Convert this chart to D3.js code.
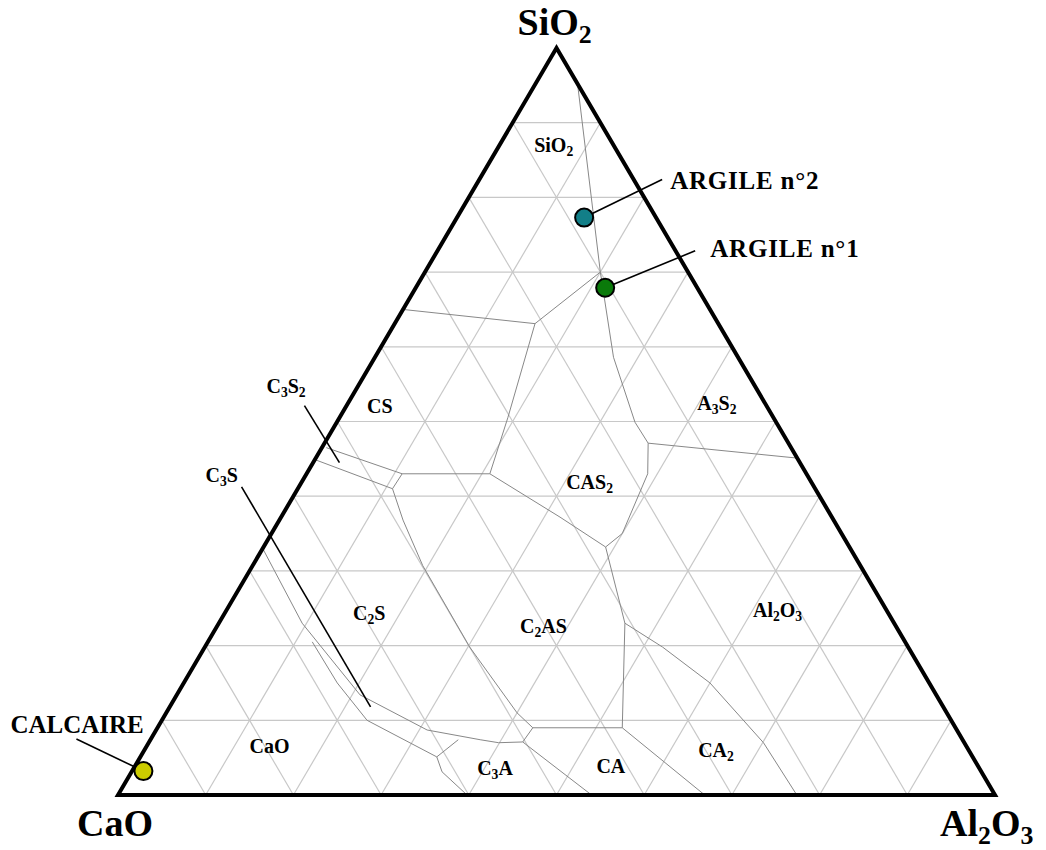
<!DOCTYPE html>
<html>
<head>
<meta charset="utf-8">
<script src="https://cdn.jsdelivr.net/npm/d3@7"></script>
<style>
body { margin: 0; background: #fff; }
text { font-family: "Liberation Serif", "Times New Roman", serif; font-weight: bold; fill: #000; }
</style>
</head>
<body>
<script>
// all compositions in % : [SiO2, Al2O3], CaO is the rest
var vertexNames = ["SiO_2", "CaO", "Al_2O_3"];
var vertexComp  = [[100, 0], [0, 0], [0, 100]];
var gridSteps   = d3.range(10, 100, 10);

// phase boundaries
var boundaries = [
    [[95.2, 4.8], [70.0, 20.0], [58.6, 27.2], [49.9, 34.0], [47.1, 36.9], [43.0, 38.9],
     [35.0, 40.0], [33.2, 39.0], [23.0, 46.3], [9.0, 53.0]],
    [[70.0, 20.0], [63.1, 16.0], [65.0, 0]],
    [[63.1, 16.0], [50.5, 19.2], [43.0, 20.9], [43.0, 10.9]],
    [[43.0, 10.9], [46.5, 0.5]],
    [[44.9, 0], [41.0, 10.8], [43.0, 10.9]],
    [[41.0, 10.8], [36.8, 14.1], [30.7, 19.4], [19.8, 30.2], [11.0, 40.0], [9.0, 42.8]],
    [[43.0, 20.9], [37.2, 31.8], [33.2, 39.0]],
    [[47.1, 36.9], [45.1, 54.9]],
    [[9.0, 42.8], [9.0, 53.0]],
    [[9.0, 53.0], [0, 66.9]],
    [[23.0, 46.3], [19.8, 52.2], [15.0, 60.0], [7.0, 70.1], [0, 77.4]],
    [[9.0, 42.8], [7.1, 42.6], [0, 54.0]],
    [[33.0, 0], [23.0, 9.5], [13.4, 20.9], [8.7, 30.9], [7.4, 37.6], [7.0, 39.9], [7.1, 42.6]],
    [[20.5, 11.9], [15.0, 17.5], [10.0, 23.4], [5.1, 33.8], [3.1, 35.4], [0, 39.8]],
    [[5.1, 33.8], [7.4, 35.1]]
];

// phase field labels (left end of the baseline)
var phaseNames = ["SiO_2", "CS", "A_3S_2", "CAS_2", "C_2S", "C_2AS", "Al_2O_3", "CaO", "C_3A", "CA", "CA_2"];
var phaseSiO2  = [86.1, 51.2, 51.5, 41.0, 23.4, 21.7, 23.8, 5.6, 2.7, 2.9, 5.1];
var phaseAl2O3 = [4.4, 2.8, 40.3, 30.6, 15.1, 35.0, 60.5, 12.2, 39.6, 53.1, 63.6];

// narrow fields labelled from outside with a pointer
var pointerNames  = ["C_3S_2", "C_3S"];
var pointerTarget = [[44.5, 3.0], [11.8, 22.9]];

// raw materials
var samples      = ["ARGILE n°2", "ARGILE n°1", "CALCAIRE"];
var sampleComp   = [[77.3, 14.5], [67.9, 21.6], [3.2, 1.3]];
var sampleColors = ["#127f88", "#0a7a0a", "#cccc00"];

var width = 1046, height = 850;

// layout offsets in px
var vertexOffset  = [[-39, -13], [-41, 41], [-55, 41]];
var pointerLabel  = [[-73, -70], [-165, -225]];
var pointerTail   = [[-35, -57], [-129, -220]];
var sampleLeader  = [[78, -38], [90, -37], [-67, -32]];
var sampleLabel   = [[86, -29], [105, -31], [-133, -38]];

const svg = d3.select("body")
    .append("svg")
    .attr("width", width)
    .attr("height", height);

// ternary projection: horizontal position runs with Al2O3 + SiO2/2, vertical with SiO2
var xScale = d3.scaleLinear().domain([0, 100]).range([118, 995]);
var yScale = d3.scaleLinear().domain([0, 100]).range([795, 48]);

function px(d) { return xScale(d[1] + d[0] / 2); }
function py(d) { return yScale(d[0]); }

var line = d3.line().x(px).y(py);

function addText(g, str, x, y, size, spacing) {
    var t = g.append("text").attr("x", x).attr("y", y).style("font-size", size + "px");
    if (spacing) t.style("letter-spacing", spacing + "px");
    var shift = 0;
    str.split(/(_\d)/).forEach(p => {
        if (!p) return;
        var sub = p[0] === "_";
        var target = sub ? size * 0.2 : 0;
        t.append("tspan")
            .attr("dy", target - shift)
            .style("font-size", (sub ? size * 0.68 : size) + "px")
            .text(sub ? p.slice(1) : p);
        shift = target;
    });
    return t;
}

// grid
var gridLines = [];
gridSteps.forEach(k => {
    gridLines.push([[k, 0], [k, 100 - k]]);
    gridLines.push([[0, k], [100 - k, k]]);
    gridLines.push([[0, 100 - k], [100 - k, 0]]);
});

svg.append("g")
    .selectAll("path")
    .data(gridLines)
    .join("path")
    .attr("d", line)
    .style("fill", "none")
    .style("stroke", "#c8c8c8")
    .style("stroke-width", 1.2);

// boundaries
svg.append("g")
    .selectAll("path")
    .data(boundaries)
    .join("path")
    .attr("d", line)
    .style("fill", "none")
    .style("stroke", "#888")
    .style("stroke-width", 1);

// frame
svg.append("path")
    .attr("d", line(vertexComp) + "Z")
    .style("fill", "none")
    .style("stroke", "#000")
    .style("stroke-width", 4)
    .style("stroke-linejoin", "miter");

// pointers
var labels = svg.append("g");
pointerNames.forEach((n, i) => {
    var x = px(pointerTarget[i]), y = py(pointerTarget[i]);
    svg.append("line")
        .attr("x1", x + pointerTail[i][0]).attr("y1", y + pointerTail[i][1])
        .attr("x2", x).attr("y2", y)
        .style("stroke", "#000")
        .style("stroke-width", 1.6);
    addText(labels, n, x + pointerLabel[i][0], y + pointerLabel[i][1], 20);
});

phaseNames.forEach((n, i) => {
    var d = [phaseSiO2[i], phaseAl2O3[i]];
    addText(labels, n, px(d), py(d), 20);
});

vertexNames.forEach((n, i) => {
    addText(labels, n, px(vertexComp[i]) + vertexOffset[i][0], py(vertexComp[i]) + vertexOffset[i][1], 38);
});

// samples
samples.forEach((n, i) => {
    var x = px(sampleComp[i]), y = py(sampleComp[i]);
    svg.append("line")
        .attr("x1", x).attr("y1", y)
        .attr("x2", x + sampleLeader[i][0]).attr("y2", y + sampleLeader[i][1])
        .style("stroke", "#000")
        .style("stroke-width", 1.6);
    addText(labels, n, x + sampleLabel[i][0], y + sampleLabel[i][1], 25, i < 2 ? 0.8 : 0);
});

svg.append("g")
    .selectAll("circle")
    .data(sampleComp)
    .join("circle")
    .attr("cx", px)
    .attr("cy", py)
    .attr("r", 9)
    .attr("fill", (d, i) => sampleColors[i])
    .style("stroke", "#000")
    .style("stroke-width", 2);
</script>
</body>
</html>
